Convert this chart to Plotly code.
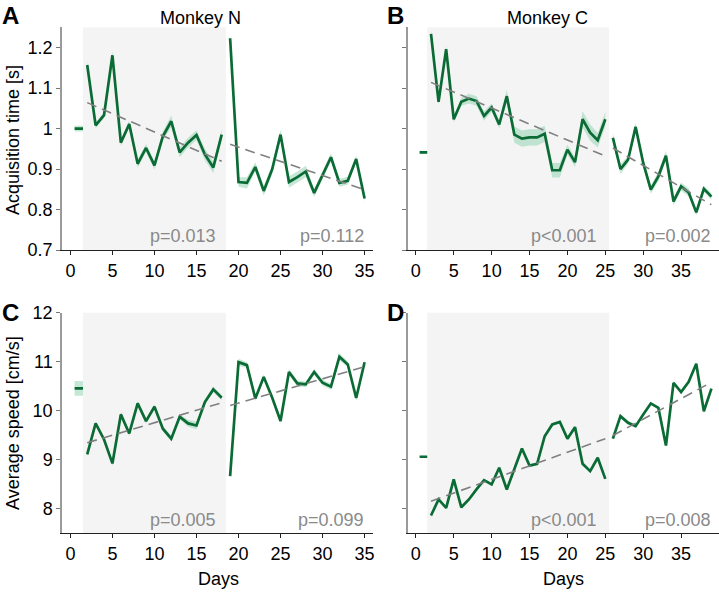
import plotly.graph_objects as go
import numpy as np

# ---- data ----
# Monkey N: day 1 baseline, phase 1 = days 2-18, phase 2 = days 19-35
days_N1 = list(range(2, 19))
days_N2 = list(range(19, 36))
# Monkey C: phase 1 = days 2-25, phase 2 = days 26-39
days_C1 = list(range(2, 26))
days_C2 = list(range(26, 40))

# acquisition time [s]
acq_N_base = [1.0]
acq_N_base_sem = [0.007]
acq_N1 = [1.157, 1.008, 1.033, 1.181, 0.965, 1.011, 0.913, 0.952, 0.909, 0.981,
          1.018, 0.941, 0.965, 0.984, 0.936, 0.904, 0.985]
acq_N1_sem = [0.008, 0.007, 0.007, 0.010, 0.008, 0.008, 0.010, 0.010, 0.010, 0.012,
              0.014, 0.012, 0.012, 0.012, 0.014, 0.014, 0.012]
acq_N2 = [1.223, 0.868, 0.866, 0.905, 0.846, 0.899, 0.985, 0.868, 0.880, 0.894,
          0.841, 0.886, 0.929, 0.866, 0.871, 0.925, 0.827]
acq_N2_sem = [0.010, 0.012, 0.014, 0.012, 0.012, 0.012, 0.012, 0.014, 0.014, 0.014,
              0.010, 0.010, 0.010, 0.010, 0.010, 0.008, 0.008]

acq_C_base = [0.941]
acq_C_base_sem = [0.004]
acq_C1 = [1.234, 1.066, 1.196, 1.023, 1.066, 1.074, 1.068, 1.031, 1.052, 1.010,
          1.080, 0.985, 0.975, 0.978, 0.978, 0.987, 0.897, 0.897, 0.948, 0.917,
          1.023, 0.990, 0.971, 1.023]
acq_C1_sem = [0.008, 0.008, 0.008, 0.008, 0.010, 0.012, 0.012, 0.012, 0.010, 0.010,
              0.015, 0.020, 0.020, 0.020, 0.020, 0.020, 0.018, 0.018, 0.012, 0.012,
              0.020, 0.020, 0.018, 0.018]
acq_C2 = [0.977, 0.900, 0.923, 1.004, 0.915, 0.849, 0.882, 0.933, 0.820, 0.857,
          0.842, 0.793, 0.851, 0.832]
acq_C2_sem = [0.012, 0.012, 0.010, 0.010, 0.010, 0.010, 0.012, 0.012, 0.010, 0.010,
              0.010, 0.008, 0.008, 0.008]

# average speed [cm/s]
spd_N_base = [10.455]
spd_N_base_sem = [0.15]
spd_N1 = [9.108, 9.741, 9.414, 8.925, 9.925, 9.537, 10.149, 9.788, 10.08, 9.633,
          9.429, 9.878, 9.741, 9.70, 10.176, 10.435, 10.265]
spd_N1_sem = [0.04, 0.04, 0.04, 0.05, 0.05, 0.05, 0.05, 0.05, 0.05, 0.05,
              0.06, 0.05, 0.07, 0.08, 0.05, 0.06, 0.05]
spd_N2 = [8.666, 10.99, 10.93, 10.25, 10.69, 10.27, 9.79, 10.79, 10.557, 10.537,
          10.79, 10.57, 10.49, 11.10, 10.945, 10.26, 10.99]
spd_N2_sem = [0.04, 0.07, 0.06, 0.05, 0.05, 0.05, 0.05, 0.06, 0.06, 0.06,
              0.06, 0.06, 0.06, 0.07, 0.06, 0.05, 0.05]

spd_C_base = [9.061]
spd_C_base_sem = [0.02]
spd_C1 = [7.863, 8.19, 8.02, 8.60, 8.03, 8.19, 8.394, 8.584, 8.496, 8.837,
          8.394, 8.80, 9.23, 8.88, 8.918, 9.48, 9.72, 9.77, 9.43, 9.665,
          8.918, 8.767, 9.04, 8.61]
spd_C1_sem = [0.03, 0.03, 0.03, 0.03, 0.03, 0.03, 0.03, 0.03, 0.03, 0.03,
              0.03, 0.03, 0.03, 0.03, 0.03, 0.03, 0.03, 0.03, 0.03, 0.03,
              0.03, 0.03, 0.03, 0.03]
spd_C2 = [9.43, 9.89, 9.755, 9.686, 9.924, 10.149, 10.06, 9.29, 10.57, 10.38,
          10.59, 10.96, 9.99, 10.45]
spd_C2_sem = [0.03, 0.04, 0.04, 0.04, 0.03, 0.03, 0.03, 0.03, 0.03, 0.03,
              0.03, 0.03, 0.03, 0.03]

# regression lines (value at first and last day of each phase)
trend_acq_N = [[1.064, 0.919], [0.961, 0.849]]
trend_acq_C = [[1.114, 0.932], [0.952, 0.812]]
trend_spd_N = [[9.347, 10.163], [10.108, 10.898]]
trend_spd_C = [[8.155, 9.43], [9.496, 10.58]]

p_acq_N = ["p=0.013", "p=0.112"]
p_acq_C = ["p<0.001", "p=0.002"]
p_spd_N = ["p=0.005", "p=0.099"]
p_spd_C = ["p<0.001", "p=0.008"]

GREEN = "#0b6b35"
BAND = "rgba(150,212,178,0.55)"
FONT = "Liberation Sans"
FS = 18

fig = go.Figure()


def add_series(xs, ys, sem, ax, baseline=False):
    xs = np.array(xs, dtype=float)
    ys = np.array(ys)
    sem = np.array(sem)
    if baseline:
        xs = np.array([xs[0] - 0.5, xs[0] + 0.5])
        ys = np.repeat(ys, 2)
        sem = np.repeat(sem, 2)
    up = ys + sem
    lo = ys - sem
    fig.add_trace(go.Scatter(
        x=np.concatenate([xs, xs[::-1]]), y=np.concatenate([up, lo[::-1]]),
        fill="toself", fillcolor=BAND, line=dict(width=0), mode="lines",
        hoverinfo="skip", showlegend=False, xaxis="x" + ax, yaxis="y" + ax))
    fig.add_trace(go.Scatter(
        x=xs, y=ys, mode="lines", line=dict(color=GREEN, width=2.7),
        showlegend=False, xaxis="x" + ax, yaxis="y" + ax))


def add_trend(xs, tr, ax):
    fig.add_trace(go.Scatter(
        x=[xs[0], xs[-1]], y=tr, mode="lines",
        line=dict(color="#808080", width=1.6, dash="10px,6px"),
        showlegend=False, xaxis="x" + ax, yaxis="y" + ax))


panels = [
    ("", days_N1, days_N2, acq_N_base, acq_N_base_sem, acq_N1, acq_N1_sem, acq_N2, acq_N2_sem, trend_acq_N),
    ("2", days_C1, days_C2, acq_C_base, acq_C_base_sem, acq_C1, acq_C1_sem, acq_C2, acq_C2_sem, trend_acq_C),
    ("3", days_N1, days_N2, spd_N_base, spd_N_base_sem, spd_N1, spd_N1_sem, spd_N2, spd_N2_sem, trend_spd_N),
    ("4", days_C1, days_C2, spd_C_base, spd_C_base_sem, spd_C1, spd_C1_sem, spd_C2, spd_C2_sem, trend_spd_C),
]

shapes = []
for ax, d1, d2, b, bs, v1, s1, v2, s2, tr in panels:
    shapes.append(dict(type="rect", xref="x" + ax, yref="y" + ax + " domain",
                       x0=d1[0] - 0.5, x1=d1[-1] + 0.5, y0=0, y1=1,
                       fillcolor="#f4f4f4", line=dict(width=0), layer="below"))
    add_series([1], b, bs, ax, baseline=True)
    add_series(d1, v1, s1, ax)
    add_series(d2, v2, s2, ax)
    add_trend(d1, tr[0], ax)
    add_trend(d2, tr[1], ax)

xa = dict(showline=True, linecolor="#222222", linewidth=1, ticks="outside",
          ticklen=4, tickcolor="#222222", showgrid=False, zeroline=False,
          tickfont=dict(family=FONT, size=FS, color="black"), tickvals=list(range(0, 40, 5)))
ya = dict(showline=True, linecolor="#9a9a9a", linewidth=1.5, ticks="outside",
          ticklen=4, tickcolor="#777777", showgrid=False, zeroline=False,
          tickfont=dict(family=FONT, size=FS, color="black"))

xl = [62 / 719, 373 / 719]
xr = [407.5 / 719, 1.0]
yt = [0.5826, 0.9544]
yb = [0.1097, 0.478]

fig.update_layout(
    width=719, height=599, margin=dict(l=0, r=0, t=0, b=0, autoexpand=False),
    plot_bgcolor="white", paper_bgcolor="white",
    xaxis=dict(xa, domain=xl, range=[-1, 36], anchor="y"),
    yaxis=dict(ya, domain=yt, range=[0.7, 1.25], dtick=0.1, anchor="x"),
    xaxis2=dict(xa, domain=xr, range=[-1.1, 40], anchor="y2"),
    yaxis2=dict(ya, domain=yt, range=[0.7, 1.25], dtick=0.1, anchor="x2", showticklabels=False),
    xaxis3=dict(xa, domain=xl, range=[-1, 36], anchor="y3"),
    yaxis3=dict(ya, domain=yb, range=[7.5, 12], dtick=1, anchor="x3"),
    xaxis4=dict(xa, domain=xr, range=[-1.1, 40], anchor="y4"),
    yaxis4=dict(ya, domain=yb, range=[7.5, 12], dtick=1, anchor="x4", showticklabels=False),
    shapes=shapes,
)

ann = []
# p-values
for ax, pv, x1, x2, yv in [("", p_acq_N, 17.5, 35.2, 0.735), ("2", p_acq_C, 24.2, 39.2, 0.735),
                           ("3", p_spd_N, 17.5, 35.2, 7.78), ("4", p_spd_C, 24.2, 39.2, 7.78)]:
    for txt, xx in zip(pv, [x1, x2]):
        ann.append(dict(text=txt, x=xx, y=yv, xref="x" + ax, yref="y" + ax,
                        xanchor="right", yanchor="middle", showarrow=False,
                        font=dict(family=FONT, size=FS, color="#8a8a8a")))


def pix(text, x, y, size=FS, bold=False, angle=0, xanchor="center"):
    t = "<b>%s</b>" % text if bold else text
    ann.append(dict(text=t, x=x / 719, y=1 - y / 599, xref="paper", yref="paper",
                    xanchor=xanchor, yanchor="middle", showarrow=False, textangle=angle,
                    font=dict(family=FONT, size=size, color="black")))


pix("A", 10, 15, size=24, bold=True)
pix("B", 395, 15, size=24, bold=True)
pix("C", 10, 312, size=24, bold=True)
pix("D", 395, 312, size=24, bold=True)
pix("Monkey N", 201, 18)
pix("Monkey C", 547, 18)
pix("Acquisition time [s]", 13, 140, angle=-90)
pix("Average speed [cm/s]", 13, 423, angle=-90)
pix("Days", 218, 579)
pix("Days", 563, 579)

fig.update_layout(annotations=ann)
fig.write_html("out.html", config={"displayModeBar": False},
               post_script="document.body.style.margin='0';document.body.style.overflow='hidden';")
